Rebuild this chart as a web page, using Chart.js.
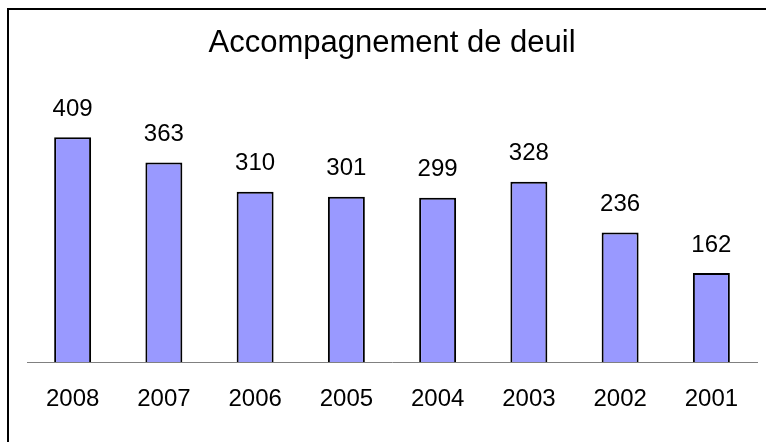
<!DOCTYPE html>
<html>
<head>
<meta charset="utf-8">
<script src="https://cdn.jsdelivr.net/npm/chart.js@4.4.0/dist/chart.umd.min.js"></script>
<style>
    html, body { margin: 0; padding: 0; background: #fff; overflow: hidden; }
</style>
</head>
<body>
<canvas id="myChart" width="766" height="442"></canvas>
<script>
// Data
const years = ["2008", "2007", "2006", "2005", "2004", "2003", "2002", "2001"];
const counts = [409, 363, 310, 301, 299, 328, 236, 162];
const chartTitle = "Accompagnement de deuil";

const FONT = "'Liberation Sans', Arial, sans-serif";

// outer frame (only left and top edges are visible in the picture)
const frame = {
    id: "frame",
    afterDraw(chart) {
        const ctx = chart.ctx;
        ctx.save();
        ctx.strokeStyle = "#000";
        ctx.lineWidth = 2;
        ctx.beginPath();
        ctx.moveTo(8, chart.height);
        ctx.lineTo(8, 9);
        ctx.lineTo(chart.width, 9);
        ctx.stroke();
        ctx.restore();
    }
};

// draws the value above each bar
const valueLabels = {
    id: "valueLabels",
    afterDatasetsDraw(chart) {
        const ctx = chart.ctx;
        const meta = chart.getDatasetMeta(0);
        ctx.save();
        ctx.font = "24px " + FONT;
        ctx.fillStyle = "#000";
        ctx.textAlign = "center";
        ctx.textBaseline = "middle";
        meta.data.forEach((bar, i) => {
            ctx.fillText(counts[i], bar.x, bar.y - 28);
        });
        ctx.restore();
    }
};

new Chart("myChart", {
    type: "bar",
    data: {
        labels: years,
        datasets: [{
            data: counts,
            backgroundColor: "#9999FF",
            borderColor: "#000000",
            borderWidth: 2,
            categoryPercentage: 1,
            barPercentage: 0.405
        }]
    },
    plugins: [valueLabels, frame],
    options: {
        responsive: false,
        animation: false,
        layout: {
            padding: { left: 27, right: 9, top: 0, bottom: 13 }
        },
        plugins: {
            legend: { display: false },
            tooltip: { enabled: false },
            title: {
                display: true,
                text: chartTitle,
                color: "#000",
                font: { family: FONT, size: 31, weight: "normal" },
                padding: { top: 25, bottom: 25 }
            }
        },
        scales: {
            x: {
                grid: { display: false },
                border: { display: true, color: "#808080", width: 1 },
                ticks: {
                    color: "#000",
                    padding: 15,
                    font: { family: FONT, size: 24 }
                }
            },
            y: {
                display: false,
                min: 0,
                max: 500
            }
        }
    }
});
</script>
</body>
</html>
